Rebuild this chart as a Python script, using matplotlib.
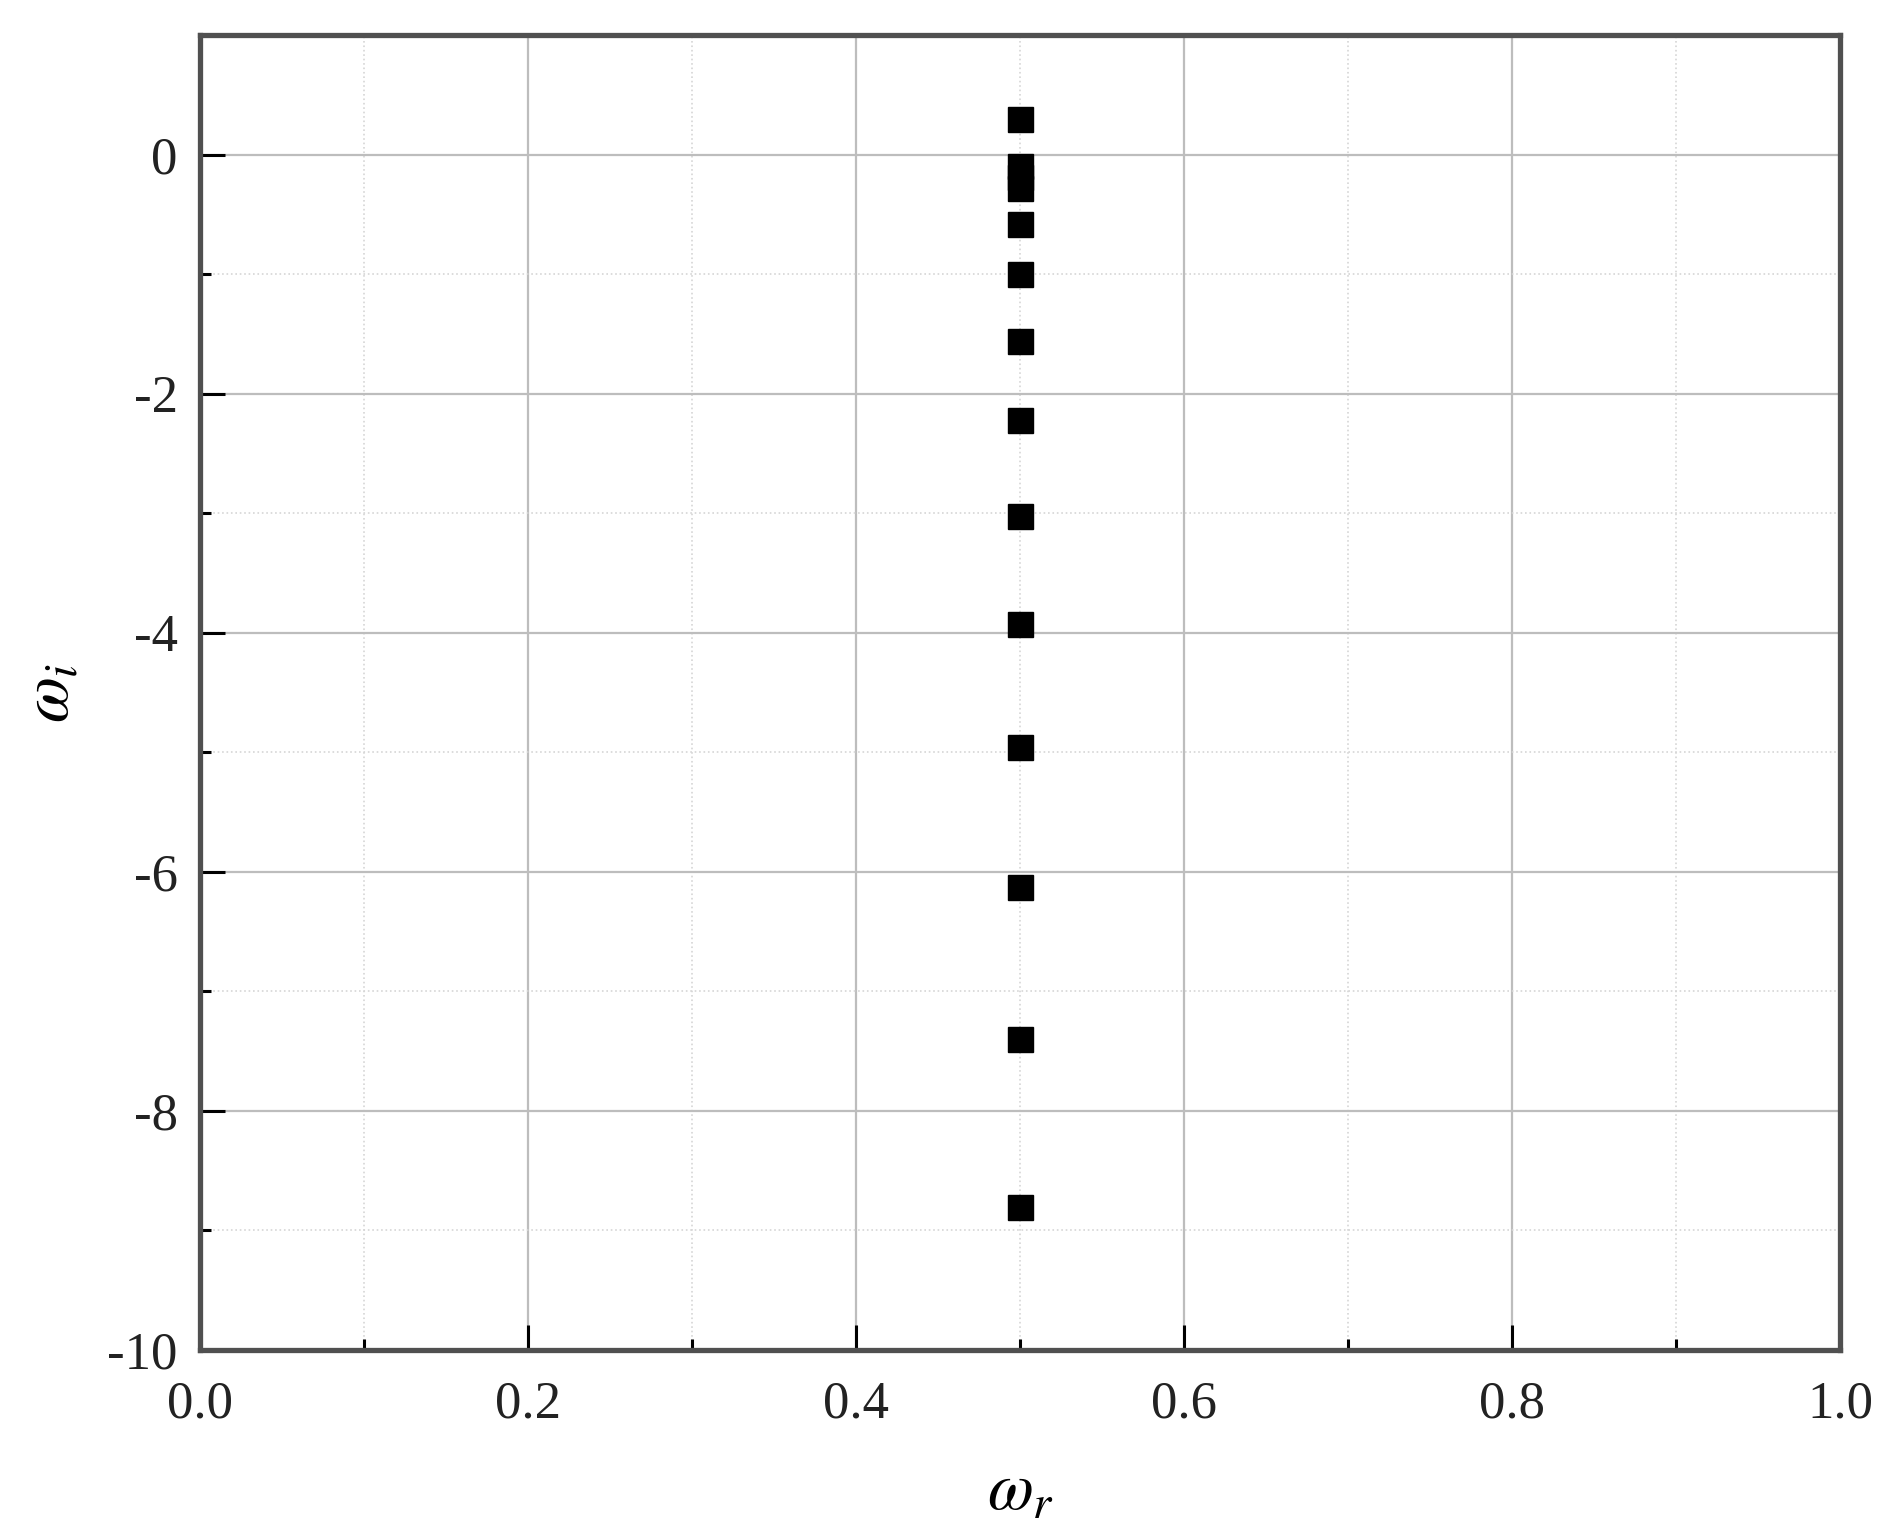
import matplotlib
matplotlib.use("Agg")
import matplotlib.pyplot as plt
from matplotlib.ticker import MultipleLocator, FormatStrFormatter

plt.rcParams['font.family'] = ['Liberation Serif', 'DejaVu Serif']
plt.rcParams['mathtext.fontset'] = 'stix'
plt.rcParams['axes.unicode_minus'] = False

# eigenvalues
omega_r = [0.5, 0.5, 0.5, 0.5, 0.5, 0.5, 0.5, 0.5, 0.5, 0.5, 0.5, 0.5, 0.5, 0.5]
omega_i = [0.30, -0.10, -0.19, -0.28, -0.58, -1.00, -1.56, -2.22, -3.02,
           -3.93, -4.96, -6.13, -7.40, -8.80]

fig = plt.figure(figsize=(18.89, 15.35), dpi=100)
ax = fig.add_subplot(111)
fig.subplots_adjust(left=200/1889, right=1840/1889, top=1-35/1535, bottom=1-1350/1535)

ax.plot(omega_r, omega_i, 's', color='black', markersize=18, zorder=5)

ax.set_xlim(0, 1.0)
ax.set_ylim(-10, 1)
ax.xaxis.set_major_locator(MultipleLocator(0.2))
ax.xaxis.set_minor_locator(MultipleLocator(0.1))
ax.yaxis.set_major_locator(MultipleLocator(2))
ax.yaxis.set_minor_locator(MultipleLocator(1))
ax.xaxis.set_major_formatter(FormatStrFormatter('%.1f'))
ax.yaxis.set_major_formatter(FormatStrFormatter('%d'))

ax.grid(True, which='major', color='#bdbdbd', linewidth=1.6, linestyle='-')
ax.grid(True, which='minor', color='#d6d6d6', linewidth=1.2, linestyle=':')
ax.set_axisbelow(True)

for s in ax.spines.values():
    s.set_linewidth(3.8)
    s.set_color('#505050')

ax.tick_params(which='major', direction='in', length=18, width=2.2, color='black',
               labelsize=38, pad=16, top=False, right=False)
ax.tick_params(axis='x', which='major', pad=22)
ax.tick_params(which='minor', direction='in', length=8, width=2.2, color='black',
               top=False, right=False)
for lab in ax.get_xticklabels() + ax.get_yticklabels():
    lab.set_color('#222222')

ax.set_xlabel(r'$\omega_r$', fontsize=48, labelpad=24)
ax.set_ylabel(r'$\omega_i$', fontsize=48, labelpad=18)

fig.savefig('out.png', dpi=100)
